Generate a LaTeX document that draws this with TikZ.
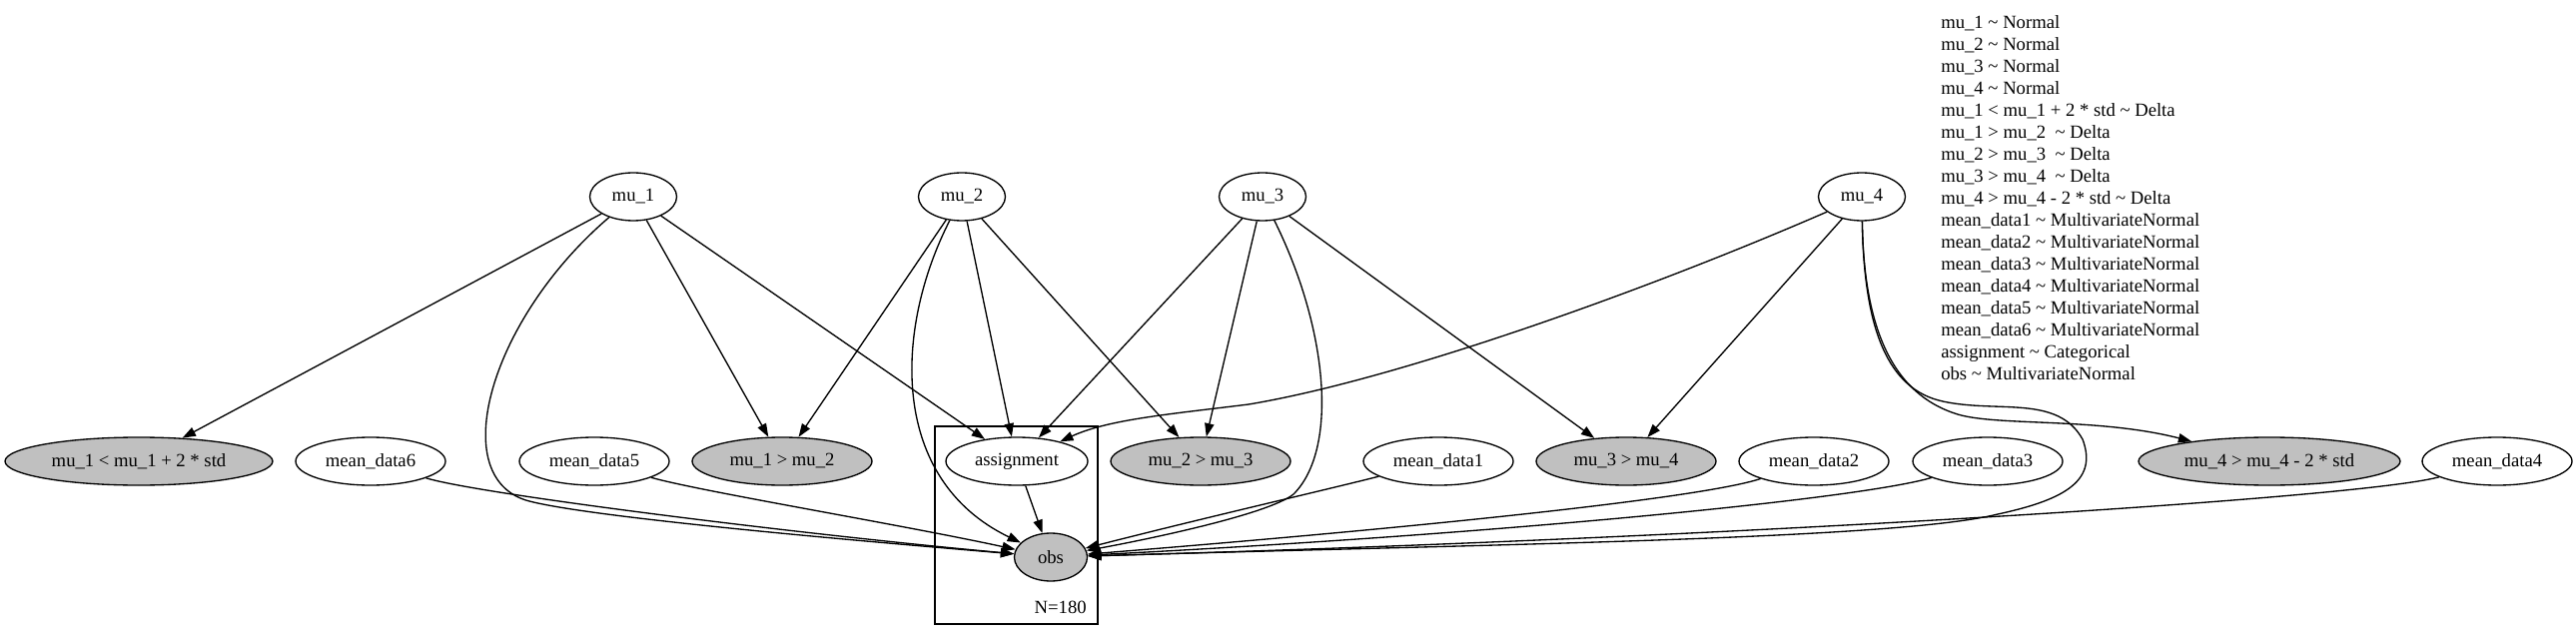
\documentclass[tikz,border=0pt]{standalone}
\usepackage{fontspec}
\setmainfont{Liberation Serif}
\usetikzlibrary{shapes.geometric, arrows.meta}
\definecolor{obsgray}{HTML}{C0C0C0}
\tikzset{
  rvnode/.style={ellipse, draw, line width=1pt, inner sep=0pt,
                 minimum width=112.5pt, minimum height=36pt},
  munode/.style={rvnode, minimum width=65.25pt},
  obsnode/.style={rvnode, fill=obsgray},
  cmpnode/.style={obsnode, minimum width=135pt},
  platebox/.style={rectangle, draw, line width=1pt,
                   minimum width=122.25pt, minimum height=148.5pt},
  depedge/.style={-{Triangle[length=10pt, width=7pt]}, line width=1pt},
}

\begin{document}
\begin{tikzpicture}[x=0.75pt, y=-0.75pt, font=\fontsize{14}{16.5}\selectfont]
  \useasboundingbox (0,0) rectangle (2579,641);

  \node[platebox] (plate) at (1017.5,526) {};
  \node[anchor=base east, inner sep=0pt] (plabel) at (1088,614) {N=180};

  \node[munode] (mu1) at (634,197) {mu\_1};
  \node[munode] (mu2) at (963,197) {mu\_2};
  \node[munode] (mu3) at (1264,197) {mu\_3};
  \node[munode] (mu4) at (1864,197) {mu\_4};

  \node[cmpnode, minimum width=201pt] (c1bound) at (139,462)
    {mu\_1 < mu\_1 + 2 * std};
  \node[rvnode] (md6) at (371,462) {mean\_data6};
  \node[rvnode] (md5) at (595,462) {mean\_data5};
  \node[cmpnode] (c12) at (783,462) {mu\_1 > mu\_2};
  \node[rvnode, minimum width=106.5pt] (assign) at (1018,462) {assignment};
  \node[cmpnode] (c23) at (1202,462) {mu\_2 > mu\_3};
  \node[rvnode] (md1) at (1440,462) {mean\_data1};
  \node[cmpnode] (c34) at (1628,462) {mu\_3 > mu\_4};
  \node[rvnode] (md2) at (1816,462) {mean\_data2};
  \node[rvnode] (md3) at (1990,462) {mean\_data3};
  \node[cmpnode, minimum width=196.5pt] (c4bound) at (2272,462)
    {mu\_4 > mu\_4 - 2 * std};
  \node[rvnode] (md4) at (2500,462) {mean\_data4};

  \node[obsnode, minimum width=54.75pt] (obs) at (1052,558) {obs};

  \node[anchor=north west, align=left, inner sep=0pt] (legend) at (1943,15.5)
    {mu\_1 \textasciitilde\ Normal\\
     mu\_2 \textasciitilde\ Normal\\
     mu\_3 \textasciitilde\ Normal\\
     mu\_4 \textasciitilde\ Normal\\
     mu\_1 < mu\_1 + 2 * std \textasciitilde\ Delta\\
     mu\_1 > mu\_2\ \ \textasciitilde\ Delta\\
     mu\_2 > mu\_3\ \ \textasciitilde\ Delta\\
     mu\_3 > mu\_4\ \ \textasciitilde\ Delta\\
     mu\_4 > mu\_4 - 2 * std \textasciitilde\ Delta\\
     mean\_data1 \textasciitilde\ MultivariateNormal\\
     mean\_data2 \textasciitilde\ MultivariateNormal\\
     mean\_data3 \textasciitilde\ MultivariateNormal\\
     mean\_data4 \textasciitilde\ MultivariateNormal\\
     mean\_data5 \textasciitilde\ MultivariateNormal\\
     mean\_data6 \textasciitilde\ MultivariateNormal\\
     assignment \textasciitilde\ Categorical\\
     obs \textasciitilde\ MultivariateNormal};

  \draw[depedge] (mu1) -- (c1bound);
  \draw[depedge] (mu1) -- (c12);
  \draw[depedge] (mu2) -- (c12);
  \draw[depedge] (mu1) -- (assign);
  \draw[depedge] (mu2) -- (assign);
  \draw[depedge] (mu3) -- (assign);
  \draw[depedge] (mu2) -- (c23);
  \draw[depedge] (mu3) -- (c23);
  \draw[depedge] (mu3) -- (c34);
  \draw[depedge] (mu4) -- (c34);
  \draw[depedge] (assign) -- (obs);

  \draw[depedge] (mu4) .. controls (1650,290) and (1400,380) .. (1250,405)
    .. controls (1170,415) and (1110,420) .. (assign);
  \draw[depedge] (mu4) .. controls (1866,330) and (1895,395) .. (1960,415)
    .. controls (2000,427) and (2100,418) .. (c4bound);

  \draw[depedge] (mu1) .. controls (490,320) and (445,480) .. (530,502)
    .. controls (600,520) and (900,545) .. (obs);
  \draw[depedge] (mu2) .. controls (895,330) and (890,480) .. (obs);
  \draw[depedge] (mu3) .. controls (1330,330) and (1340,450) .. (1295,495)
    .. controls (1270,515) and (1150,540) .. (obs);
  \draw[depedge] (mu4) .. controls (1866,330) and (1890,390) .. (1945,402)
    .. controls (2000,414) and (2060,395) .. (2085,440)
    .. controls (2100,480) and (2070,500) .. (2000,515)
    .. controls (1900,540) and (1500,545) .. (obs);

  \draw[depedge] (md6) .. controls (480,495) and (800,535) .. (obs);
  \draw[depedge] (md5) .. controls (700,492) and (900,525) .. (obs);
  \draw[depedge] (md1) .. controls (1330,490) and (1200,520) .. (obs);
  \draw[depedge] (md2) .. controls (1700,500) and (1400,530) .. (obs);
  \draw[depedge] (md3) .. controls (1860,500) and (1500,535) .. (obs);
  \draw[depedge] (md4) .. controls (2360,500) and (1700,540) .. (obs);
\end{tikzpicture}
\end{document}
